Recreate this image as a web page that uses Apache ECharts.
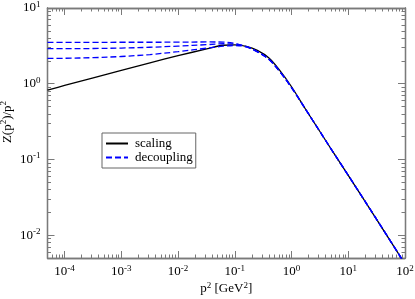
<!DOCTYPE html>
<html><head><meta charset="utf-8">
<script src="https://cdn.jsdelivr.net/npm/echarts@6/dist/echarts.min.js"></script>
<style>html,body{margin:0;padding:0;background:#fff}#c{width:415px;height:299px}</style>
</head><body><div id="c"></div>
<script>
// p^2 sample points [GeV^2]
const p2 = [5e-5, 1e-4, 3.2e-4, 1e-3, 3.2e-3, 0.01, 0.032, 0.063, 0.1, 0.16, 0.25, 0.4, 0.63, 1.0, 1.78, 3.16, 5.6, 10, 31.6, 100];
// Z(p^2)/p^2 values
const scaling = [0.826, 0.948, 1.194, 1.503, 1.892, 2.344, 2.884, 3.221, 3.258, 3.112, 2.754, 2.188, 1.479, 0.912, 0.457, 0.234, 0.120, 0.0617, 0.0162, 0.00417];
const decoupling1 = [3.52, 3.52, 3.52, 3.53, 3.53, 3.54, 3.56, 3.55, 3.40, 3.09, 2.66, 2.10, 1.43, 0.89, 0.457, 0.234, 0.120, 0.0617, 0.0162, 0.00417];
const decoupling2 = [2.90, 2.90, 2.92, 2.96, 3.03, 3.14, 3.28, 3.37, 3.35, 3.08, 2.65, 2.10, 1.43, 0.89, 0.457, 0.234, 0.120, 0.0617, 0.0162, 0.00417];
const decoupling3 = [2.16, 2.17, 2.21, 2.29, 2.43, 2.65, 2.95, 3.13, 3.20, 3.06, 2.63, 2.09, 1.42, 0.89, 0.457, 0.234, 0.120, 0.0617, 0.0162, 0.00417];
// tick values
const xMajor = [1e-4, 1e-3, 1e-2, 1e-1, 1, 10, 100];
const yMajor = [1e-2, 1e-1, 1, 10];
const xMinor = [];
[-5,-4,-3,-2,-1,0,1].forEach(e => { for (let k = 2; k <= 9; k++) { const v = k * Math.pow(10, e); if (v > 5e-5 && v < 100) xMinor.push(v); } });
const yMinor = [];
[-3,-2,-1,0].forEach(e => { for (let k = 2; k <= 9; k++) { const v = k * Math.pow(10, e); if (v > 5e-3 && v < 10) yMinor.push(v); } });

const FONT = 'Liberation Serif';
const AX = '#7a7a7a';
const rich = {
  b: {fontSize: 13, fontFamily: FONT, color: '#000', lineHeight: 16},
  s: {fontSize: 9, fontFamily: FONT, color: '#000', verticalAlign: 'top', lineHeight: 16, padding: [0,0,7,0]}
};
function fmt(v) { const e = Math.round(Math.log10(v)); return '{b|10}{s|' + (e < 0 ? '-' + (-e) : e) + '}'; }

function xAx(pos, major, show) {
  return {
    type: 'log', logBase: 10, min: 5e-5, max: 100, position: pos,
    axisLine: {show: true, lineStyle: {color: AX, width: 1.3}},
    axisTick: {show: true, inside: true, length: major ? 7 : 3.5, customValues: major ? xMajor : xMinor, lineStyle: {color: AX, width: 1}},
    axisLabel: {show: show, customValues: xMajor, formatter: fmt, rich: rich, margin: 6},
    splitLine: {show: false}, minorTick: {show: false},
    name: show ? '{b|p}{s|2}{b| [GeV}{s|2}{b|]}' : '', nameLocation: 'middle', nameGap: 23, nameMoveOverlap: false,
    nameTextStyle: {rich: rich}
  };
}
function yAx(pos, major, show) {
  return {
    type: 'log', logBase: 10, min: 5e-3, max: 10, position: pos,
    axisLine: {show: true, lineStyle: {color: AX, width: 1.3}},
    axisTick: {show: true, inside: true, length: major ? 7 : 3.5, customValues: major ? yMajor : yMinor, lineStyle: {color: AX, width: 1}},
    axisLabel: {show: show, customValues: yMajor, formatter: fmt, rich: rich, margin: 7},
    splitLine: {show: false}, minorTick: {show: false},
    name: show ? '{b|Z(p}{s|2}{b|)/p}{s|2}' : '', nameLocation: 'middle', nameGap: 32, nameMoveOverlap: false,
    nameTextStyle: {rich: rich, padding: [0, 0, 0, 22]}
  };
}
function mk(arr) { return p2.map((x, i) => [x, arr[i]]); }
const dashStyle = {color: '#0000ff', width: 1.3, type: [6, 3]};

const chart = echarts.init(document.getElementById('c'), null, {renderer: 'canvas'});
chart.setOption({
  animation: false,
  grid: {left: 47.5, right: 10, top: 8, bottom: 41, containLabel: false, outerBoundsMode: 'none'},
  xAxis: [xAx('bottom', true, true), xAx('bottom', false, false), xAx('top', true, false), xAx('top', false, false)],
  yAxis: [yAx('left', true, true), yAx('left', false, false), yAx('right', true, false), yAx('right', false, false)],
  legend: {
    left: 102, top: 133, orient: 'vertical', itemWidth: 22, itemHeight: 12, itemGap: 1,
    padding: [4, 3, 4, 3], borderColor: '#666', borderWidth: 1, borderRadius: 0,
    itemStyle: {opacity: 0},
    textStyle: {fontFamily: FONT, fontSize: 13, color: '#000', padding: [0,0,0,2]},
    data: [{name: 'scaling'}, {name: 'decoupling'}]
  },
  series: [
    {name: 'decoupling', type: 'line', data: mk(decoupling1), showSymbol: false, symbol: 'none', smooth: 0.35, itemStyle: {color: '#0000ff'}, lineStyle: dashStyle, z: 3},
    {name: 'decoupling', type: 'line', data: mk(decoupling2), showSymbol: false, symbol: 'none', smooth: 0.35, itemStyle: {color: '#0000ff'}, lineStyle: dashStyle, z: 3},
    {name: 'decoupling', type: 'line', data: mk(decoupling3), showSymbol: false, symbol: 'none', smooth: 0.35, itemStyle: {color: '#0000ff'}, lineStyle: dashStyle, z: 3},
    {name: 'scaling', type: 'line', data: mk(scaling), showSymbol: false, symbol: 'none', smooth: 0.35, itemStyle: {color: '#000'}, lineStyle: {color: '#000', width: 1.3}, z: 2}
  ]
});
</script></body></html>
